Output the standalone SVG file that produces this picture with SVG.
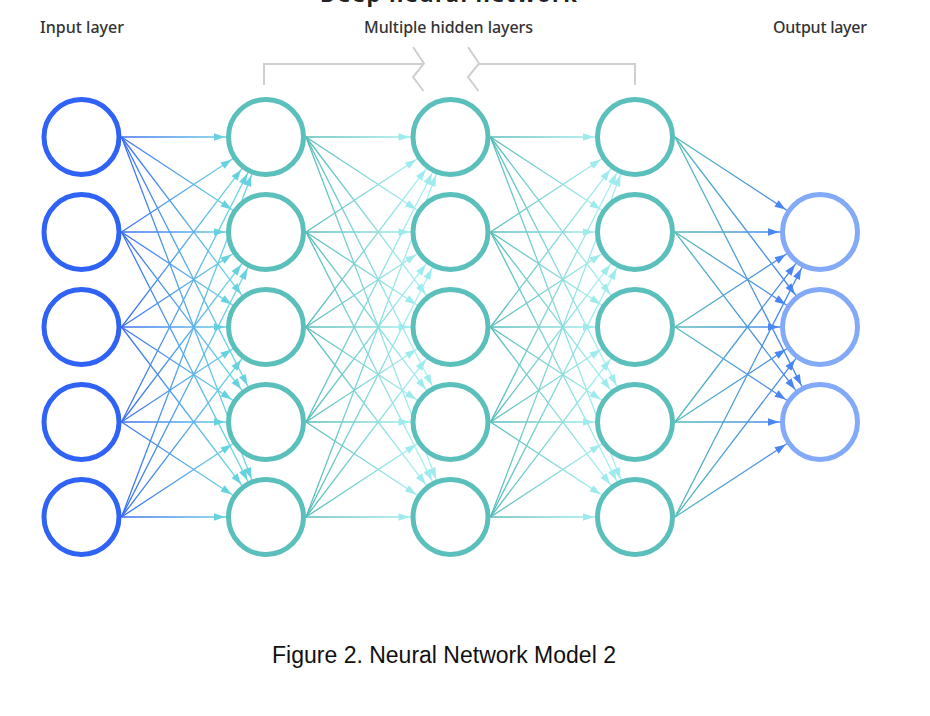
<svg xmlns="http://www.w3.org/2000/svg" width="930" height="716" viewBox="0 0 930 716">
<style>
.lbl{font-family:"Noto Sans","Open Sans","Liberation Sans",sans-serif;font-size:16px;font-weight:500;fill:#333;text-anchor:middle}
.title{font-family:"Noto Sans","Liberation Sans",sans-serif;font-size:22px;font-weight:700;fill:#222;text-anchor:middle}
.cap{font-family:"Liberation Sans",Arial,sans-serif;font-size:23px;fill:#111;text-anchor:middle}
.in{fill:#fff;stroke:#2f63f5;stroke-width:5}
.hid{fill:#fff;stroke:#5bbfbb;stroke-width:5}
.out{fill:#fff;stroke:#82aaf8;stroke-width:5}
.e1{stroke:url(#g1);stroke-width:1.3;marker-end:url(#m1)}
.e2{stroke:url(#g2);stroke-width:1.3;marker-end:url(#m2)}
.e3{stroke:url(#g3);stroke-width:1.3;marker-end:url(#m2)}
.e4{stroke:url(#g4);stroke-width:1.3;marker-end:url(#m4)}
.br{fill:none;stroke:#cfcfcf;stroke-width:2}
</style>
<defs>
<linearGradient id="g1" gradientUnits="userSpaceOnUse" x1="121.5" y1="0" x2="230" y2="0"><stop offset="0" stop-color="#3a6df2"/><stop offset="1" stop-color="#6dd6e3"/></linearGradient>
<linearGradient id="g2" gradientUnits="userSpaceOnUse" x1="306" y1="0" x2="414" y2="0"><stop offset="0" stop-color="#56bcb9"/><stop offset="1" stop-color="#a6eef0"/></linearGradient>
<linearGradient id="g3" gradientUnits="userSpaceOnUse" x1="490.5" y1="0" x2="599" y2="0"><stop offset="0" stop-color="#56bcb9"/><stop offset="1" stop-color="#a6eef0"/></linearGradient>
<linearGradient id="g4" gradientUnits="userSpaceOnUse" x1="675" y1="0" x2="784" y2="0"><stop offset="0" stop-color="#56bcb9"/><stop offset="1" stop-color="#4a86f2"/></linearGradient>
<marker id="m1" markerUnits="userSpaceOnUse" orient="auto" refX="0" refY="0" markerWidth="1" markerHeight="1" style="overflow:visible"><path d="M-41,0 L-52,-3.8 L-52,3.8 Z" fill="#66d2e0"/></marker>
<marker id="m2" markerUnits="userSpaceOnUse" orient="auto" refX="0" refY="0" markerWidth="1" markerHeight="1" style="overflow:visible"><path d="M-41,0 L-52,-3.8 L-52,3.8 Z" fill="#9eebee"/></marker>
<marker id="m4" markerUnits="userSpaceOnUse" orient="auto" refX="0" refY="0" markerWidth="1" markerHeight="1" style="overflow:visible"><path d="M-41,0 L-52,-3.8 L-52,3.8 Z" fill="#4a86f2"/></marker>
</defs>
<rect width="930" height="716" fill="#fff"/>
<text class="title" x="448.5" y="1.5" textLength="257">Deep neural network</text>
<text class="lbl" x="82" y="33" textLength="84">Input layer</text>
<text class="lbl" x="448.5" y="33" textLength="169">Multiple hidden layers</text>
<text class="lbl" x="820" y="33" textLength="94">Output layer</text>
<g id="hidden-bracket">
<polyline class="br" points="264,85 264,64 424,64"/>
<polyline class="br" points="413,47 424,63.5 413,77 423.5,91"/>
<polyline class="br" points="468,47 479,63.5 468,77 478.5,91"/>
<polyline class="br" points="479,64 635,64 635,85"/>
</g>
<g id="connectors">
<g id="in-h1">
<line class="e1" x1="121.5" y1="137" x2="266" y2="137"/><line class="e1" x1="121.5" y1="137" x2="266" y2="232"/><line class="e1" x1="121.5" y1="137" x2="266" y2="327"/><line class="e1" x1="121.5" y1="137" x2="266" y2="422"/><line class="e1" x1="121.5" y1="137" x2="266" y2="517"/>
<line class="e1" x1="121.5" y1="232" x2="266" y2="137"/><line class="e1" x1="121.5" y1="232" x2="266" y2="232"/><line class="e1" x1="121.5" y1="232" x2="266" y2="327"/><line class="e1" x1="121.5" y1="232" x2="266" y2="422"/><line class="e1" x1="121.5" y1="232" x2="266" y2="517"/>
<line class="e1" x1="121.5" y1="327" x2="266" y2="137"/><line class="e1" x1="121.5" y1="327" x2="266" y2="232"/><line class="e1" x1="121.5" y1="327" x2="266" y2="327"/><line class="e1" x1="121.5" y1="327" x2="266" y2="422"/><line class="e1" x1="121.5" y1="327" x2="266" y2="517"/>
<line class="e1" x1="121.5" y1="422" x2="266" y2="137"/><line class="e1" x1="121.5" y1="422" x2="266" y2="232"/><line class="e1" x1="121.5" y1="422" x2="266" y2="327"/><line class="e1" x1="121.5" y1="422" x2="266" y2="422"/><line class="e1" x1="121.5" y1="422" x2="266" y2="517"/>
<line class="e1" x1="121.5" y1="517" x2="266" y2="137"/><line class="e1" x1="121.5" y1="517" x2="266" y2="232"/><line class="e1" x1="121.5" y1="517" x2="266" y2="327"/><line class="e1" x1="121.5" y1="517" x2="266" y2="422"/><line class="e1" x1="121.5" y1="517" x2="266" y2="517"/>
</g>
<g id="h1-h2">
<line class="e2" x1="306" y1="137" x2="450.5" y2="137"/><line class="e2" x1="306" y1="137" x2="450.5" y2="232"/><line class="e2" x1="306" y1="137" x2="450.5" y2="327"/><line class="e2" x1="306" y1="137" x2="450.5" y2="422"/><line class="e2" x1="306" y1="137" x2="450.5" y2="517"/>
<line class="e2" x1="306" y1="232" x2="450.5" y2="137"/><line class="e2" x1="306" y1="232" x2="450.5" y2="232"/><line class="e2" x1="306" y1="232" x2="450.5" y2="327"/><line class="e2" x1="306" y1="232" x2="450.5" y2="422"/><line class="e2" x1="306" y1="232" x2="450.5" y2="517"/>
<line class="e2" x1="306" y1="327" x2="450.5" y2="137"/><line class="e2" x1="306" y1="327" x2="450.5" y2="232"/><line class="e2" x1="306" y1="327" x2="450.5" y2="327"/><line class="e2" x1="306" y1="327" x2="450.5" y2="422"/><line class="e2" x1="306" y1="327" x2="450.5" y2="517"/>
<line class="e2" x1="306" y1="422" x2="450.5" y2="137"/><line class="e2" x1="306" y1="422" x2="450.5" y2="232"/><line class="e2" x1="306" y1="422" x2="450.5" y2="327"/><line class="e2" x1="306" y1="422" x2="450.5" y2="422"/><line class="e2" x1="306" y1="422" x2="450.5" y2="517"/>
<line class="e2" x1="306" y1="517" x2="450.5" y2="137"/><line class="e2" x1="306" y1="517" x2="450.5" y2="232"/><line class="e2" x1="306" y1="517" x2="450.5" y2="327"/><line class="e2" x1="306" y1="517" x2="450.5" y2="422"/><line class="e2" x1="306" y1="517" x2="450.5" y2="517"/>
</g>
<g id="h2-h3">
<line class="e3" x1="490.5" y1="137" x2="635" y2="137"/><line class="e3" x1="490.5" y1="137" x2="635" y2="232"/><line class="e3" x1="490.5" y1="137" x2="635" y2="327"/><line class="e3" x1="490.5" y1="137" x2="635" y2="422"/><line class="e3" x1="490.5" y1="137" x2="635" y2="517"/>
<line class="e3" x1="490.5" y1="232" x2="635" y2="137"/><line class="e3" x1="490.5" y1="232" x2="635" y2="232"/><line class="e3" x1="490.5" y1="232" x2="635" y2="327"/><line class="e3" x1="490.5" y1="232" x2="635" y2="422"/><line class="e3" x1="490.5" y1="232" x2="635" y2="517"/>
<line class="e3" x1="490.5" y1="327" x2="635" y2="137"/><line class="e3" x1="490.5" y1="327" x2="635" y2="232"/><line class="e3" x1="490.5" y1="327" x2="635" y2="327"/><line class="e3" x1="490.5" y1="327" x2="635" y2="422"/><line class="e3" x1="490.5" y1="327" x2="635" y2="517"/>
<line class="e3" x1="490.5" y1="422" x2="635" y2="137"/><line class="e3" x1="490.5" y1="422" x2="635" y2="232"/><line class="e3" x1="490.5" y1="422" x2="635" y2="327"/><line class="e3" x1="490.5" y1="422" x2="635" y2="422"/><line class="e3" x1="490.5" y1="422" x2="635" y2="517"/>
<line class="e3" x1="490.5" y1="517" x2="635" y2="137"/><line class="e3" x1="490.5" y1="517" x2="635" y2="232"/><line class="e3" x1="490.5" y1="517" x2="635" y2="327"/><line class="e3" x1="490.5" y1="517" x2="635" y2="422"/><line class="e3" x1="490.5" y1="517" x2="635" y2="517"/>
</g>
<g id="h3-out">
<line class="e4" x1="675" y1="137" x2="820" y2="232"/><line class="e4" x1="675" y1="137" x2="820" y2="327"/><line class="e4" x1="675" y1="137" x2="820" y2="422"/>
<line class="e4" x1="675" y1="232" x2="820" y2="232"/><line class="e4" x1="675" y1="232" x2="820" y2="327"/><line class="e4" x1="675" y1="232" x2="820" y2="422"/>
<line class="e4" x1="675" y1="327" x2="820" y2="232"/><line class="e4" x1="675" y1="327" x2="820" y2="327"/><line class="e4" x1="675" y1="327" x2="820" y2="422"/>
<line class="e4" x1="675" y1="422" x2="820" y2="232"/><line class="e4" x1="675" y1="422" x2="820" y2="327"/><line class="e4" x1="675" y1="422" x2="820" y2="422"/>
<line class="e4" x1="675" y1="517" x2="820" y2="232"/><line class="e4" x1="675" y1="517" x2="820" y2="327"/><line class="e4" x1="675" y1="517" x2="820" y2="422"/>
</g>
</g>
<g id="in1"><circle class="in" cx="81.5" cy="137" r="37.5"/></g>
<g id="in2"><circle class="in" cx="81.5" cy="232" r="37.5"/></g>
<g id="in3"><circle class="in" cx="81.5" cy="327" r="37.5"/></g>
<g id="in4"><circle class="in" cx="81.5" cy="422" r="37.5"/></g>
<g id="in5"><circle class="in" cx="81.5" cy="517" r="37.5"/></g>
<g id="h1n1"><circle class="hid" cx="266" cy="137" r="37.5"/></g>
<g id="h1n2"><circle class="hid" cx="266" cy="232" r="37.5"/></g>
<g id="h1n3"><circle class="hid" cx="266" cy="327" r="37.5"/></g>
<g id="h1n4"><circle class="hid" cx="266" cy="422" r="37.5"/></g>
<g id="h1n5"><circle class="hid" cx="266" cy="517" r="37.5"/></g>
<g id="h2n1"><circle class="hid" cx="450.5" cy="137" r="37.5"/></g>
<g id="h2n2"><circle class="hid" cx="450.5" cy="232" r="37.5"/></g>
<g id="h2n3"><circle class="hid" cx="450.5" cy="327" r="37.5"/></g>
<g id="h2n4"><circle class="hid" cx="450.5" cy="422" r="37.5"/></g>
<g id="h2n5"><circle class="hid" cx="450.5" cy="517" r="37.5"/></g>
<g id="h3n1"><circle class="hid" cx="635" cy="137" r="37.5"/></g>
<g id="h3n2"><circle class="hid" cx="635" cy="232" r="37.5"/></g>
<g id="h3n3"><circle class="hid" cx="635" cy="327" r="37.5"/></g>
<g id="h3n4"><circle class="hid" cx="635" cy="422" r="37.5"/></g>
<g id="h3n5"><circle class="hid" cx="635" cy="517" r="37.5"/></g>
<g id="out1"><circle class="out" cx="820" cy="232" r="37.5"/></g>
<g id="out2"><circle class="out" cx="820" cy="327" r="37.5"/></g>
<g id="out3"><circle class="out" cx="820" cy="422" r="37.5"/></g>
<text class="cap" x="444" y="663">Figure 2. Neural Network Model 2</text>
</svg>
